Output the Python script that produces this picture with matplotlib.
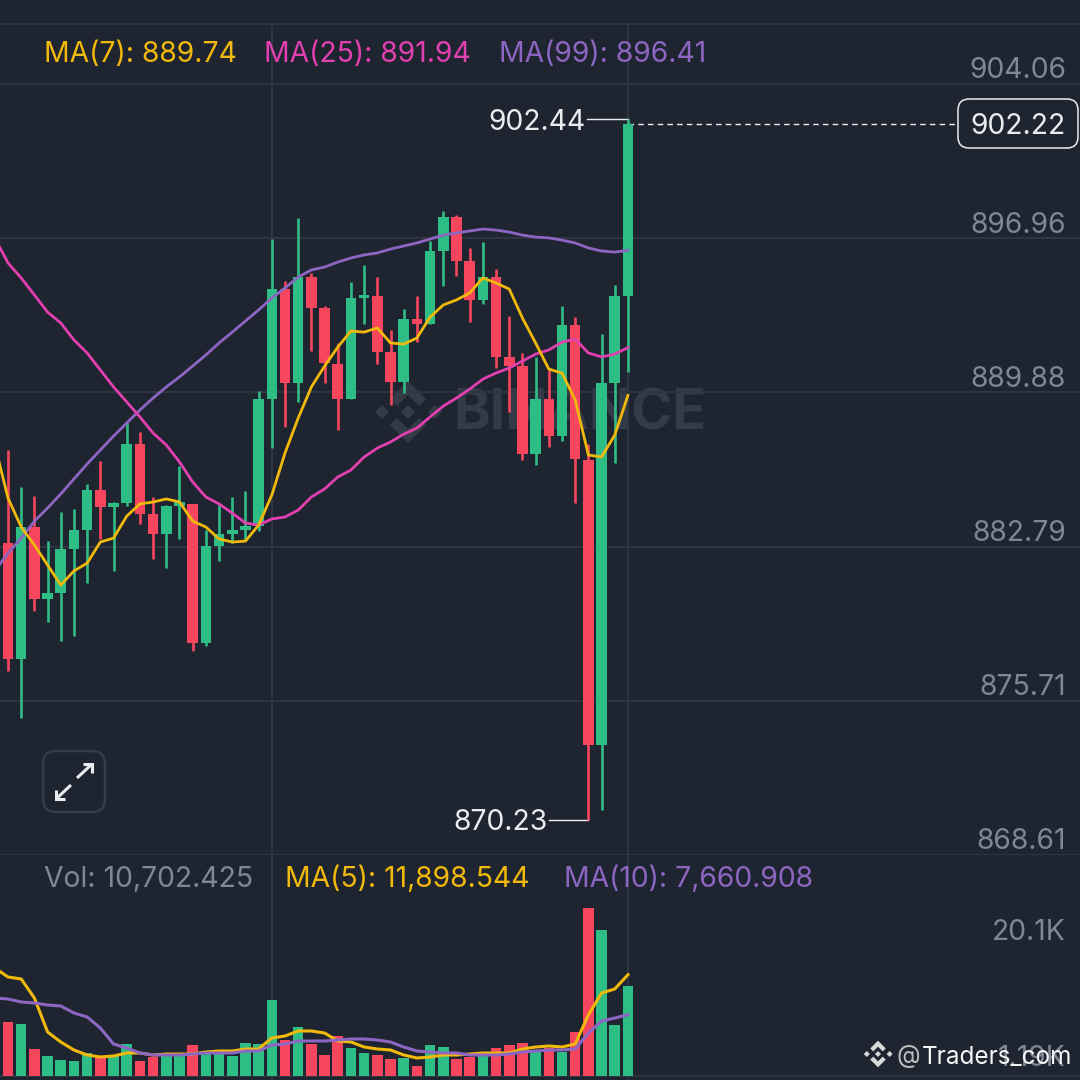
#!/usr/bin/env python3
# candlestick chart with volume pane
import numpy as np
import matplotlib
matplotlib.use("Agg")
import matplotlib.pyplot as plt
from matplotlib.patches import FancyBboxPatch, Polygon

# candles
opens = [882.95, 877.62, 883.69, 880.38, 880.65, 882.68, 883.55, 885.39, 884.61, 884.79, 887.50, 884.29,
         883.37, 884.65, 884.75, 878.35, 882.81, 883.37, 883.55, 883.73, 889.57, 894.63, 890.31, 895.18,
         893.76, 891.18, 889.57, 894.22, 894.31, 891.74, 890.36, 893.25, 893.02, 896.38, 897.94, 895.92,
         894.13, 895.18, 891.51, 891.09, 887.05, 889.57, 887.87, 892.98, 886.77, 873.66, 890.31, 894.31]
closes = [877.62, 883.69, 880.38, 880.65, 882.68, 883.55, 885.39, 884.61, 884.79, 887.50, 884.29, 883.37,
          884.65, 884.84, 878.35, 882.81, 883.37, 883.55, 883.73, 889.57, 894.63, 890.31, 895.18, 893.76,
          891.23, 889.57, 894.22, 894.36, 891.74, 890.36, 893.25, 893.02, 896.38, 897.94, 895.92, 894.13,
          895.18, 891.51, 891.09, 887.05, 889.57, 887.87, 892.98, 886.82, 873.66, 890.31, 894.31, 902.22]
highs = [887.23, 885.53, 885.11, 883.04, 884.38, 884.52, 885.67, 886.72, 884.84, 888.47, 888.06, 885.07,
         884.70, 886.49, 884.75, 883.55, 884.70, 885.07, 885.34, 889.94, 896.93, 895.00, 897.90, 895.37,
         893.85, 892.15, 894.95, 895.74, 895.18, 892.75, 893.71, 894.31, 896.84, 898.22, 898.03, 896.52,
         896.79, 895.55, 893.39, 891.69, 891.51, 890.91, 893.85, 893.34, 887.50, 892.56, 894.82, 902.44]
lows = [877.07, 874.91, 879.83, 879.32, 878.45, 878.68, 881.11, 883.14, 881.66, 884.65, 883.83, 882.22,
        881.80, 883.14, 877.99, 878.22, 882.13, 882.95, 883.09, 883.50, 887.32, 888.29, 889.44, 891.78,
        890.31, 888.15, 889.57, 893.02, 891.18, 889.30, 889.85, 892.19, 893.02, 894.77, 895.23, 893.11,
        893.94, 890.99, 888.98, 886.77, 886.54, 887.37, 887.64, 884.79, 870.23, 870.68, 886.63, 890.81]

# moving averages, first value is the candle just off the left edge
ma7 = [887.46, 885.02, 883.69, 882.86, 881.94, 881.02, 881.67, 882.03, 883.00, 883.18, 884.19, 884.75, 884.84,
       884.98, 884.84, 883.96, 883.69, 883.14, 883.00, 883.04, 883.78, 885.16, 887.09, 888.70, 890.13, 891.09,
       891.96, 892.70, 892.65, 892.84, 892.15, 892.10, 892.38, 893.34, 893.90, 894.13, 894.45, 895.14, 894.91,
       894.63, 893.30, 892.15, 890.95, 890.77, 889.53, 887.00, 886.91, 887.92, 889.74]
ma25 = [896.98, 895.83, 895.14, 894.36, 893.57, 893.07, 892.29, 891.69, 890.91, 890.13, 889.44, 888.75, 888.01,
        887.46, 886.68, 885.76, 885.07, 884.75, 884.33, 883.87, 883.78, 884.06, 884.15, 884.47, 885.07, 885.44,
        885.99, 886.31, 886.91, 887.32, 887.60, 887.96, 888.24, 888.75, 889.25, 889.62, 890.03, 890.49, 890.77,
        891.00, 891.32, 891.64, 891.83, 892.19, 892.33, 891.69, 891.51, 891.64, 891.94]
ma99 = [881.67, 882.49, 883.18, 883.96, 884.56, 885.21, 885.90, 886.59, 887.23, 887.87, 888.47, 889.07, 889.62,
        890.13, 890.59, 891.09, 891.60, 892.15, 892.65, 893.16, 893.67, 894.22, 894.68, 895.18, 895.51, 895.64,
        895.87, 896.06, 896.20, 896.29, 896.47, 896.61, 896.75, 896.93, 897.11, 897.21, 897.30, 897.39, 897.34,
        897.25, 897.11, 897.02, 896.98, 896.88, 896.75, 896.52, 896.38, 896.33, 896.41]

# volume pane
volumes = [6898, 6686, 4044, 3304, 2881, 2776, 3621, 3198, 3410, 4572, 2776, 3198, 3410, 3410, 4467, 3727,
           3621, 3304, 4678, 4572, 9223, 4995, 6369, 4572, 3410, 5418, 4150, 3621, 3410, 2987, 3093, 2247,
           4467, 4255, 2987, 3198, 3410, 4150, 4467, 4678, 3727, 4150, 3727, 5841, 18948, 16622, 6581, 10702]
vol_ma5 = [12606, 11654, 11443, 9435, 5841, 4784, 3938, 3410, 3198, 3304, 3621, 3621, 3410, 3515, 3515, 3515,
           3727, 3833, 3833, 4044, 4044, 5207, 5418, 5947, 5947, 5735, 4890, 4784, 4255, 4044, 3938, 3410,
           3093, 3198, 3410, 3410, 3515, 3621, 3621, 3621, 4044, 4255, 4361, 4255, 4572, 7638, 9963, 10386, 11898]
vol_ma10 = [9435, 9329, 9012, 8906, 8695, 8589, 7849, 7426, 6264, 4572, 4150, 3621, 3410, 3410, 3410, 3515,
            3621, 3621, 3621, 3833, 3833, 4467, 4572, 4890, 4890, 4890, 4995, 5101, 5101, 4995, 4784, 4255,
            3833, 3727, 3621, 3621, 3410, 3410, 3410, 3515, 3727, 3833, 3938, 3938, 4044, 5735, 7004, 7321, 7661]

price_ticks = [904.06, 896.96, 889.88, 882.79, 875.71, 868.61]
price_labels = ["904.06", "896.96", "889.88", "882.79", "875.71", "868.61"]
vol_labels = ["20.1K", "1.19K"]
vertical_candles = [20, 47]

last_price = 902.22
price_high = 902.44
price_low = 870.23
high_idx = 47
low_idx = 44

BG = "#1f2530"
GRID = "#2f3541"
GREEN = "#2ebd85"
RED = "#f6465d"
YELLOW = "#f0b90b"
PINK = "#e23fb0"
PURPLE = "#8c66c2"
GREY = "#7f8793"
WHITE = "#eaecef"
MARK = "#343b46"
FONT = "Inter"
FS = 20.4

plt.rcParams["font.family"] = FONT

# pixel helpers for the figure, the panes fill the whole 1080 square
SPLIT = 855
fig = plt.figure(figsize=(10.8, 10.8), dpi=100, facecolor=BG)
ax = fig.add_axes([0, (1080 - SPLIT) / 1080, 1, SPLIT / 1080], facecolor="none", zorder=2)
vax = fig.add_axes([0, 0, 1, (1080 - SPLIT) / 1080], facecolor="none", zorder=2)
ui = fig.add_axes([0, 0, 1, 1], facecolor="none", zorder=3)
back = fig.add_axes([0, 0, 1, 1], facecolor=BG, zorder=1)
for a in (ui, back):
    a.set_xlim(0, 1080)
    a.set_ylim(1080, 0)
    a.axis("off")

idx = np.arange(len(opens))
ma_idx = np.arange(-1, len(opens))
colors = [GREEN if c >= o else RED for o, c in zip(opens, closes)]

for a in (ax, vax):
    a.set_xlim(-0.607, 81.27)
    a.axis("off")
ax.set_ylim(868.61, 907.92)
vax.set_ylim(767, 24550)

# grid
for p in price_ticks:
    ax.axhline(p, color=GRID, lw=1.4, zorder=1)
ax.axhline(906.82, color=GRID, lw=1.4, zorder=1)
vax.axhline(1190 - 5, color=GRID, lw=1.4, zorder=1)
for i in vertical_candles:
    ax.axvline(i, ymin=0, ymax=(SPLIT - 24) / SPLIT, color=GRID, lw=1.4, zorder=1)
    vax.axvline(i, color=GRID, lw=1.4, zorder=1)

# candles
ax.vlines(idx, lows, highs, colors=colors, lw=1.9, zorder=3)
bottoms = np.minimum(opens, closes)
heights = np.abs(np.array(closes) - np.array(opens))
ax.bar(idx, heights, bottom=bottoms, width=0.8, color=colors, zorder=3)

ax.plot(ma_idx, ma99, color=PURPLE, lw=2.0, zorder=4)
ax.plot(ma_idx, ma25, color=PINK, lw=2.0, zorder=4)
ax.plot(ma_idx, ma7, color=YELLOW, lw=2.0, zorder=5)

# volume
vax.bar(idx, np.array(volumes) - 1190, bottom=1190, width=0.8, color=colors, zorder=3)
vax.plot(ma_idx, vol_ma5, color=YELLOW, lw=2.2, zorder=4)
vax.plot(ma_idx, vol_ma10, color=PURPLE, lw=2.2, zorder=5)

# last price line and high/low callouts
ax.plot([high_idx, 72.0], [last_price, last_price], color=WHITE, lw=1, dashes=(4, 3), zorder=2)
ax.plot([high_idx - 3.1, high_idx], [price_high, price_high], color=WHITE, lw=1, zorder=2)
ax.plot([low_idx - 3.0, low_idx], [price_low, price_low], color=WHITE, lw=1, zorder=2)
ui.text(586, 122, f"{price_high:.2f}", color=WHITE, fontsize=FS, ha="right", va="center")
ui.text(548, 823, f"{price_low:.2f}", color=WHITE, fontsize=FS, ha="right", va="center")
ui.add_patch(FancyBboxPatch((958, 99), 120, 49, boxstyle="round,pad=0,rounding_size=11",
                            fc=BG, ec=WHITE, lw=1.1))
ui.text(1066, 126, f"{last_price:.2f}", color=WHITE, fontsize=FS, ha="right", va="center")

# axis labels sit above their grid lines
for p, lab in zip(price_ticks, price_labels):
    ax.annotate(lab, xy=(1, p), xycoords=ax.get_yaxis_transform(), xytext=(-10.1, 9.6),
                textcoords="offset points", color=GREY, fontsize=FS, ha="right", va="center")
ui.text(1066, 932, vol_labels[0], color=GREY, fontsize=FS, ha="right", va="center")
ui.text(1066, 1058, vol_labels[1], color=GREY, fontsize=FS, ha="right", va="center")

# legends
ui.text(44, 54, "MA(7): 889.74", color=YELLOW, fontsize=FS, va="center")
ui.text(264, 54, "MA(25): 891.94", color=PINK, fontsize=FS, va="center")
ui.text(499, 54, "MA(99): 896.41", color=PURPLE, fontsize=FS, va="center")
ui.text(44, 879, "Vol: 10,702.425", color=GREY, fontsize=FS, va="center")
ui.text(285, 879, "MA(5): 11,898.544", color=YELLOW, fontsize=FS, va="center")
ui.text(564, 879, "MA(10): 7,660.908", color=PURPLE, fontsize=FS, va="center")


def logo(a, cx, cy, s, color, zorder):
    # the diamond mark, s=1 is the big watermark
    for dx in (-26, 0, 27):
        a.add_patch(Polygon([(cx + dx * s, cy - 7 * s), (cx + (dx + 7) * s, cy), (cx + dx * s, cy + 7 * s),
                             (cx + (dx - 7) * s, cy)], fc=color, ec="none", zorder=zorder))
    for sign in (-1, 1):
        pts = [(0, -31), (18, -13), (11, -6), (0, -17), (-11, -6), (-18, -13)]
        a.add_patch(Polygon([(cx + x * s, cy + sign * y * s) for x, y in pts], fc=color, ec="none", zorder=zorder))


# watermark under the candles
logo(back, 408, 412, 1.0, MARK, 2)
back.text(453, 415, "BINANCE", color=MARK, fontsize=40, fontweight="bold", va="center", zorder=2)

# expand button
ui.add_patch(FancyBboxPatch((43, 751), 62, 61, boxstyle="round,pad=0,rounding_size=13", fc="none", ec="#363c49", lw=1.8))
ui.plot([77, 92], [778, 764], color=WHITE, lw=2.2, solid_capstyle="butt")
ui.plot([83, 92, 92], [764, 764, 773], color=WHITE, lw=2.2, solid_joinstyle="miter", solid_capstyle="butt")
ui.plot([71, 56], [785, 799], color=WHITE, lw=2.2, solid_capstyle="butt")
ui.plot([56, 56, 65], [790, 799, 799], color=WHITE, lw=2.2, solid_joinstyle="miter", solid_capstyle="butt")

# handle stamp in the corner
logo(ui, 878, 1054, 0.43, "#d9d9d9", 6)
ui.text(897, 1057, "@", color="#bdbdbd", fontsize=17.5, va="center", zorder=6)
ui.text(922, 1057, "Traders_com", color="#f5f5f5", fontsize=17.5, va="center", zorder=6)

fig.savefig("out.png", dpi=100, facecolor=BG)
